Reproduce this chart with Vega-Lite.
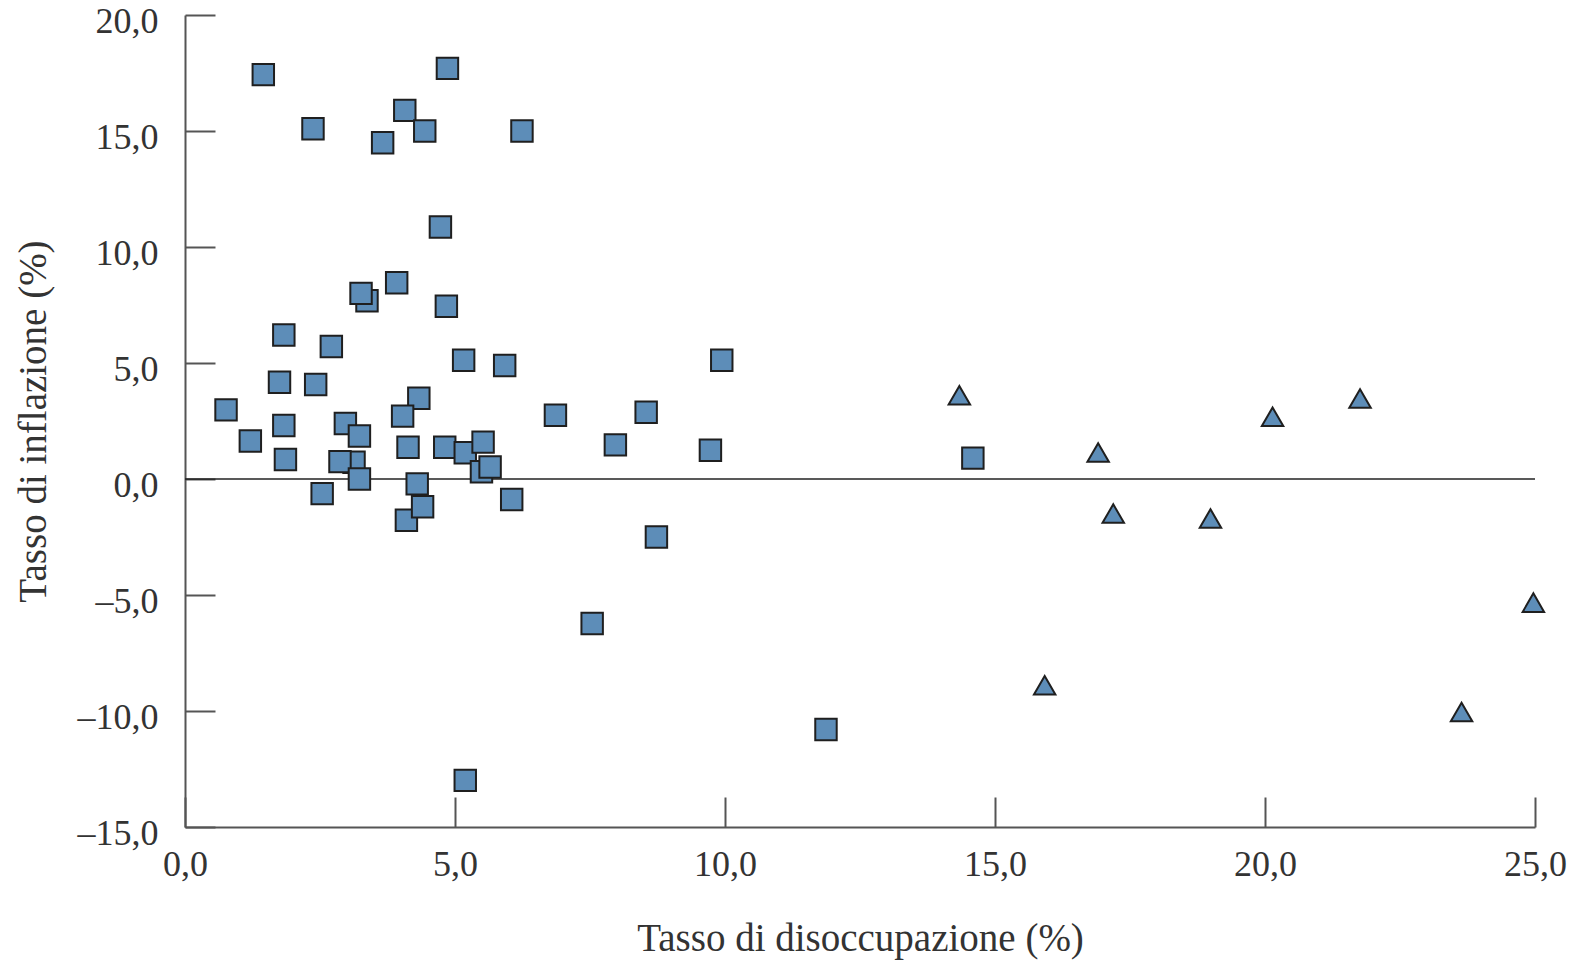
{
  "$schema": "https://vega.github.io/schema/vega-lite/v6.json",
  "autosize": {"type": "none"},
  "padding": {"left": 185, "top": 15, "right": 47, "bottom": 134},
  "width": 1350,
  "height": 812,
  "background": "white",
  "config": {
    "view": {"stroke": null},
    "font": "Liberation Serif",
    "axis": {
      "labelFont": "Liberation Serif",
      "titleFont": "Liberation Serif",
      "labelFontSize": 36,
      "titleFontSize": 39,
      "labelColor": "#333333",
      "titleColor": "#333333",
      "titleFontWeight": "normal",
      "domainColor": "#555555",
      "domainWidth": 2,
      "tickColor": "#555555",
      "tickWidth": 2,
      "grid": false
    }
  },
  "layer": [
    {
      "data": {"values": [{"zero": 0}]},
      "mark": {"type": "rule", "color": "#222222", "strokeWidth": 1.6},
      "encoding": {
        "y": {"field": "zero", "type": "quantitative", "scale": {"domain": [-15, 20], "nice": false, "zero": false}}
      }
    },
    {
      "data": {
        "values": [
          {"disoccupazione": 1.45, "inflazione": 17.43, "gruppo": "A"},
          {"disoccupazione": 4.86, "inflazione": 17.70, "gruppo": "A"},
          {"disoccupazione": 4.07, "inflazione": 15.89, "gruppo": "A"},
          {"disoccupazione": 2.37, "inflazione": 15.10, "gruppo": "A"},
          {"disoccupazione": 4.44, "inflazione": 15.00, "gruppo": "A"},
          {"disoccupazione": 6.24, "inflazione": 15.00, "gruppo": "A"},
          {"disoccupazione": 3.66, "inflazione": 14.49, "gruppo": "A"},
          {"disoccupazione": 4.73, "inflazione": 10.86, "gruppo": "A"},
          {"disoccupazione": 3.92, "inflazione": 8.46, "gruppo": "A"},
          {"disoccupazione": 3.37, "inflazione": 7.68, "gruppo": "A"},
          {"disoccupazione": 3.26, "inflazione": 8.00, "gruppo": "A"},
          {"disoccupazione": 4.84, "inflazione": 7.45, "gruppo": "A"},
          {"disoccupazione": 1.83, "inflazione": 6.21, "gruppo": "A"},
          {"disoccupazione": 2.71, "inflazione": 5.71, "gruppo": "A"},
          {"disoccupazione": 5.16, "inflazione": 5.12, "gruppo": "A"},
          {"disoccupazione": 5.92, "inflazione": 4.89, "gruppo": "A"},
          {"disoccupazione": 1.75, "inflazione": 4.17, "gruppo": "A"},
          {"disoccupazione": 2.42, "inflazione": 4.07, "gruppo": "A"},
          {"disoccupazione": 4.33, "inflazione": 3.48, "gruppo": "A"},
          {"disoccupazione": 0.76, "inflazione": 2.98, "gruppo": "A"},
          {"disoccupazione": 4.03, "inflazione": 2.71, "gruppo": "A"},
          {"disoccupazione": 6.86, "inflazione": 2.75, "gruppo": "A"},
          {"disoccupazione": 1.83, "inflazione": 2.31, "gruppo": "A"},
          {"disoccupazione": 2.97, "inflazione": 2.39, "gruppo": "A"},
          {"disoccupazione": 3.23, "inflazione": 1.85, "gruppo": "A"},
          {"disoccupazione": 1.21, "inflazione": 1.64, "gruppo": "A"},
          {"disoccupazione": 4.13, "inflazione": 1.37, "gruppo": "A"},
          {"disoccupazione": 4.81, "inflazione": 1.37, "gruppo": "A"},
          {"disoccupazione": 5.19, "inflazione": 1.13, "gruppo": "A"},
          {"disoccupazione": 5.52, "inflazione": 1.59, "gruppo": "A"},
          {"disoccupazione": 1.86, "inflazione": 0.84, "gruppo": "A"},
          {"disoccupazione": 3.13, "inflazione": 0.72, "gruppo": "A"},
          {"disoccupazione": 2.87, "inflazione": 0.75, "gruppo": "A"},
          {"disoccupazione": 5.49, "inflazione": 0.31, "gruppo": "A"},
          {"disoccupazione": 5.65, "inflazione": 0.52, "gruppo": "A"},
          {"disoccupazione": 3.23, "inflazione": 0.00, "gruppo": "A"},
          {"disoccupazione": 4.30, "inflazione": -0.21, "gruppo": "A"},
          {"disoccupazione": 2.54, "inflazione": -0.63, "gruppo": "A"},
          {"disoccupazione": 6.05, "inflazione": -0.88, "gruppo": "A"},
          {"disoccupazione": 4.10, "inflazione": -1.78, "gruppo": "A"},
          {"disoccupazione": 4.40, "inflazione": -1.20, "gruppo": "A"},
          {"disoccupazione": 7.97, "inflazione": 1.47, "gruppo": "A"},
          {"disoccupazione": 8.54, "inflazione": 2.88, "gruppo": "A"},
          {"disoccupazione": 9.73, "inflazione": 1.24, "gruppo": "A"},
          {"disoccupazione": 9.94, "inflazione": 5.12, "gruppo": "A"},
          {"disoccupazione": 8.73, "inflazione": -2.50, "gruppo": "A"},
          {"disoccupazione": 7.54, "inflazione": -6.23, "gruppo": "A"},
          {"disoccupazione": 11.87, "inflazione": -10.80, "gruppo": "A"},
          {"disoccupazione": 5.19, "inflazione": -12.99, "gruppo": "A"},
          {"disoccupazione": 14.59, "inflazione": 0.90, "gruppo": "A"},
          {"disoccupazione": 14.34, "inflazione": 3.61, "gruppo": "B"},
          {"disoccupazione": 16.91, "inflazione": 1.14, "gruppo": "B"},
          {"disoccupazione": 17.19, "inflazione": -1.49, "gruppo": "B"},
          {"disoccupazione": 18.99, "inflazione": -1.70, "gruppo": "B"},
          {"disoccupazione": 15.92, "inflazione": -8.89, "gruppo": "B"},
          {"disoccupazione": 20.14, "inflazione": 2.68, "gruppo": "B"},
          {"disoccupazione": 21.76, "inflazione": 3.47, "gruppo": "B"},
          {"disoccupazione": 24.97, "inflazione": -5.33, "gruppo": "B"},
          {"disoccupazione": 23.64, "inflazione": -10.04, "gruppo": "B"}
        ]
      },
      "mark": {"type": "point", "filled": true, "fill": "#5d8db8", "stroke": "#1f1f1f", "strokeWidth": 2, "opacity": 1, "fillOpacity": 1, "size": 460},
      "encoding": {
        "x": {
          "field": "disoccupazione", "type": "quantitative",
          "scale": {"domain": [0, 25], "nice": false, "zero": false},
          "axis": {
            "title": "Tasso di disoccupazione (%)",
            "values": [0, 5, 10, 15, 20, 25],
            "labelExpr": "replace(replace(format(datum.value, '.1f'), '.', ','), '\u2212', '\u2013')",
            "tickSize": -30,
            "labelPadding": 50,
            "titlePadding": 37,
            "labelFlush": false,
            "labelOverlap": false
          }
        },
        "y": {
          "field": "inflazione", "type": "quantitative",
          "scale": {"domain": [-15, 20], "nice": false, "zero": false},
          "axis": {
            "title": "Tasso di inflazione (%)",
            "values": [-15, -10, -5, 0, 5, 10, 15, 20],
            "labelExpr": "replace(replace(format(datum.value, '.1f'), '.', ','), '\u2212', '\u2013')",
            "tickSize": -30,
            "labelPadding": 57,
            "labelOffset": 6,
            "titlePadding": 24,
            "labelFlush": false,
            "labelOverlap": false
          }
        },
        "shape": {
          "field": "gruppo", "type": "nominal",
          "scale": {"domain": ["A", "B"], "range": ["square", "triangle-up"]},
          "legend": null
        }
      }
    }
  ]
}
